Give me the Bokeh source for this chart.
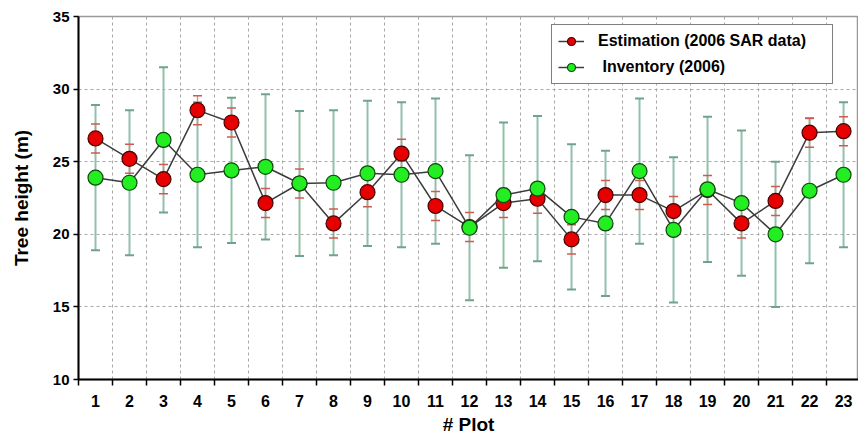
from bokeh.plotting import figure
from bokeh.models import FixedTicker, Legend, LegendItem, ColumnDataSource, Whisker, Range1d
from bokeh.embed import file_html
from bokeh.resources import INLINE

# Plot numbers and tree heights (m)
plots = list(range(1, 24))
estimation = [26.6, 25.2, 23.8, 28.55, 27.7, 22.15, 23.5, 20.75, 22.9, 25.55, 21.95, 20.5,
              22.15, 22.45, 19.65, 22.7, 22.7, 21.6, 23.05, 20.75, 22.3, 27.0, 27.1]
estimation_err = [1.0] * 23
inventory = [23.9, 23.55, 26.5, 24.1, 24.4, 24.65, 23.5, 23.55, 24.2, 24.1, 24.35, 20.45,
             22.7, 23.15, 21.2, 20.75, 24.35, 20.3, 23.1, 22.15, 20.0, 23.0, 24.1]
inventory_err = [5.0] * 23

y_ticks = [10, 15, 20, 25, 30, 35]
x_labels = [str(n) for n in plots]

FONT = "Liberation Sans"

p = figure(width=858, height=438, output_backend="svg", toolbar_location=None,
           x_range=Range1d(0.5, 23.44), y_range=Range1d(10, 35),
           min_border_left=78, min_border_right=0, min_border_top=16, min_border_bottom=59)

p.outline_line_color = "#9a9a9a"
p.outline_line_width = 1.5

# axes
p.xaxis.ticker = FixedTicker(ticks=plots, minor_ticks=[n + 0.5 for n in range(0, 24)])
p.xaxis.major_label_overrides = {n: s for n, s in zip(plots, x_labels)}
p.xaxis.major_tick_line_color = None
p.xaxis.minor_tick_line_color = "black"
p.xaxis.minor_tick_line_width = 1.5
p.xaxis.minor_tick_in = 0
p.xaxis.minor_tick_out = 6
p.xaxis.axis_line_color = "black"
p.xaxis.axis_line_width = 2
p.xaxis.axis_label = "# Plot"
p.xaxis.major_label_standoff = 9

p.yaxis.ticker = FixedTicker(ticks=y_ticks)
p.yaxis.minor_tick_line_color = None
p.yaxis.major_tick_line_color = "black"
p.yaxis.major_tick_line_width = 1.5
p.yaxis.major_tick_in = 0
p.yaxis.major_tick_out = 5
p.yaxis.axis_line_color = "black"
p.yaxis.axis_line_width = 2
p.yaxis.axis_label = "Tree height (m)"
p.yaxis.major_label_standoff = 4
p.yaxis.axis_label_standoff = 18

for ax in (p.xaxis[0], p.yaxis[0]):
    ax.major_label_text_font = FONT
    ax.major_label_text_font_style = "bold"
    ax.major_label_text_color = "black"
    ax.axis_label_text_font = FONT
    ax.axis_label_text_font_style = "bold"
    ax.axis_label_text_color = "black"
    ax.axis_label_text_font_size = "19px"
p.xaxis.major_label_text_font_size = "16px"
p.yaxis.major_label_text_font_size = "15px"
p.xaxis.axis_label_standoff = 4

# dashed grid at category boundaries and every 5 m
p.xgrid.ticker = FixedTicker(ticks=[n + 0.5 for n in range(0, 24)])
p.ygrid.ticker = FixedTicker(ticks=y_ticks)
for g in (p.xgrid[0], p.ygrid[0]):
    g.grid_line_color = "#a8a8a8"
    g.grid_line_dash = "3 3"
    g.grid_line_width = 1

src = ColumnDataSource(dict(
    x=plots,
    est=estimation,
    est_lo=[v - e for v, e in zip(estimation, estimation_err)],
    est_hi=[v + e for v, e in zip(estimation, estimation_err)],
    inv=inventory,
    inv_lo=[v - e for v, e in zip(inventory, inventory_err)],
    inv_hi=[v + e for v, e in zip(inventory, inventory_err)],
))

# error bars
w_inv = Whisker(source=src, base="x", lower="inv_lo", upper="inv_hi",
                line_color="#93c0ab", line_width=2)
for h in (w_inv.upper_head, w_inv.lower_head):
    h.size = 9
    h.line_color = "#6fa48c"
    h.line_width = 2
p.add_layout(w_inv)

w_est = Whisker(source=src, base="x", lower="est_lo", upper="est_hi",
                line_color="#dc8a84", line_width=1.3)
for h in (w_est.upper_head, w_est.lower_head):
    h.size = 9
    h.line_color = "#cf5a54"
    h.line_width = 1.5
p.add_layout(w_est)

# series
l_est = p.line("x", "est", source=src, line_color="#3c3c3c", line_width=1.5)
c_est = p.scatter("x", "est", source=src, marker="circle", size=15,
                  fill_color="#e60000", line_color="#4a0000", line_width=1.2)
l_inv = p.line("x", "inv", source=src, line_color="#3c3c3c", line_width=1.5)
c_inv = p.scatter("x", "inv", source=src, marker="circle", size=15,
                  fill_color="#22ee22", line_color="#0b4a0b", line_width=1.2)

# legend
lg_est_line = p.line([0], [0], line_color="#3c3c3c", line_width=1.5, visible=False)
lg_est_dot = p.scatter([0], [0], marker="circle", size=12, fill_color="#e60000",
                       line_color="#4a0000", line_width=1.2, visible=False)
lg_inv_line = p.line([0], [0], line_color="#3c3c3c", line_width=1.5, visible=False)
lg_inv_dot = p.scatter([0], [0], marker="circle", size=12, fill_color="#22ee22",
                       line_color="#0b4a0b", line_width=1.2, visible=False)

legend = Legend(items=[
    LegendItem(label="Estimation (2006 SAR data)", renderers=[lg_est_line, lg_est_dot]),
    LegendItem(label=" Inventory (2006)", renderers=[lg_inv_line, lg_inv_dot]),
], location=(473, 295))
legend.label_text_font = FONT
legend.label_text_font_style = "bold"
legend.label_text_font_size = "16px"
legend.label_text_color = "black"
legend.border_line_color = "black"
legend.border_line_width = 1.5
legend.background_fill_alpha = 1.0
legend.glyph_width = 26
legend.glyph_height = 20
legend.label_standoff = 14
legend.label_width = 228
legend.padding = 6
legend.spacing = 6
legend.margin = 0
p.add_layout(legend)

open("out.html", "w").write(file_html(p, INLINE))
